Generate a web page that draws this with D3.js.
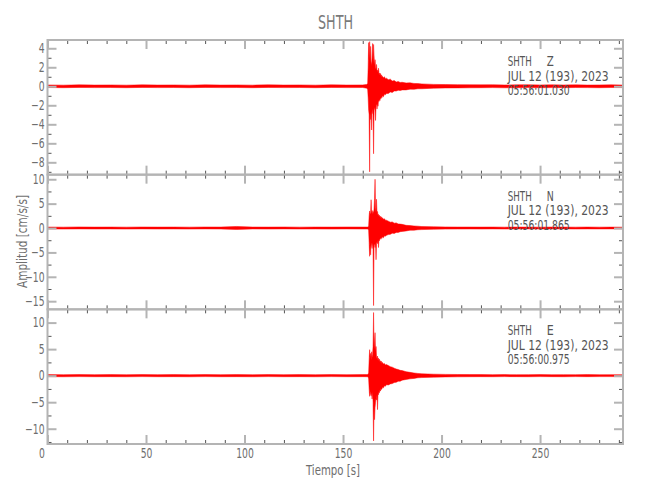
<!DOCTYPE html>
<html><head><meta charset="utf-8">
<script src="https://cdn.jsdelivr.net/npm/d3@7"></script>
<style>
body{margin:0;background:#fff;}
text{font-family:"DejaVu Sans Condensed","DejaVu Sans",sans-serif;}
</style>
</head><body><script>
// ---- data ----
const stationName = "SHTH";
const components = ["Z", "N", "E"];
const dateLabel = "JUL 12 (193), 2023";
const startTimes = ["05:56:01.030", "05:56:01.865", "05:56:00.975"];
const xLabel = "Tiempo [s]";
const yLabel = "Amplitud [cm/s/s]";
const xDomain = [0, 292.1];
const xMajor = [0, 50, 100, 150, 200, 250];
const xMinor = [10,20,30,40,60,70,80,90,110,120,130,140,160,170,180,190,210,220,230,240,260,270,280,290];
const yDomains = [[-9.3, 4.87], [-16.67, 10.94], [-12.88, 12.5]];
const yMajor = [[4,2,0,-2,-4,-6,-8], [10,5,0,-5,-10,-15], [10,5,0,-5,-10]];
const yMinor = [[3,1,-1,-3,-5,-7,-9], [7.5,2.5,-2.5,-7.5,-12.5], [7.5,2.5,-2.5,-7.5,-12.5]];

// time of each min/max bin (s)
const T = [0,8,16,24,32,40,48,56,64,72,80,88,96,104,112,120,128,136,144,152,160,
  162,
  162.5,162.75,163,163.25,163.5,163.75,164,164.25,164.5,164.75,165,165.25,165.5,165.75,166,166.25,
  166.5,166.75,167,167.25,167.5,167.75,168,168.25,168.5,168.75,169,169.25,169.5,169.75,170,
  170.5,171,171.5,172,
  173,174,175,176,177,178,179,180,
  182,184,186,188,190,
  196,202,208,214,220,226,232,238,244,250,256,262,268,274,280,286,292];

// Z component: max / min per bin
const zMax = [0.14,0.12,0.15,0.13,0.14,0.12,0.15,0.13,0.14,0.12,0.15,0.13,0.14,0.12,0.15,0.13,0.14,0.12,0.15,0.13,0.14,
  0.2,
  0.3,2.0,4.6,2.8,4.7,2.5,4.2,2.6,2.2,3.0,4.5,2.4,4.4,3.2,2.2,2.8,
  2.0,1.8,2.3,1.6,1.7,1.5,1.9,1.3,1.4,1.2,1.35,1.1,1.2,1.0,1.05,
  0.9,1.0,0.8,0.85,
  0.7,0.75,0.55,0.6,0.45,0.5,0.4,0.42,
  0.35,0.36,0.3,0.28,0.25,
  0.2,0.18,0.17,0.16,0.15,0.16,0.14,0.15,0.16,0.14,0.15,0.14,0.15,0.13,0.14,0.15,0.13];
const zMin = [-0.13,-0.15,-0.12,-0.14,-0.13,-0.15,-0.12,-0.14,-0.13,-0.15,-0.12,-0.14,-0.13,-0.15,-0.12,-0.14,-0.13,-0.15,-0.12,-0.14,-0.13,
  -0.2,
  -0.3,-1.2,-2.5,-3.0,-9.0,-2.8,-3.5,-2.6,-4.6,-2.4,-2.8,-3.0,-7.1,-2.5,-2.2,-2.6,
  -3.6,-2.0,-1.9,-2.4,-1.8,-2.1,-1.5,-1.6,-1.4,-1.5,-1.2,-1.3,-1.1,-1.2,-1.0,
  -1.1,-0.85,-0.9,-0.75,
  -0.75,-0.6,-0.65,-0.5,-0.5,-0.42,-0.45,-0.38,
  -0.38,-0.3,-0.32,-0.26,-0.26,
  -0.2,-0.18,-0.17,-0.16,-0.15,-0.14,-0.16,-0.15,-0.14,-0.15,-0.14,-0.15,-0.13,-0.14,-0.15,-0.13,-0.14];

// N component
const nMax = [0.2,0.18,0.22,0.19,0.2,0.18,0.21,0.19,0.2,0.18,0.21,0.2,0.32,0.2,0.19,0.21,0.18,0.2,0.19,0.21,0.2,
  0.2,
  0.2,0.25,0.4,2.5,3.5,2.8,3.2,5.8,3.0,3.6,2.8,3.4,3.0,4.0,6.0,10.0,
  4.2,3.2,5.9,3.0,3.4,2.6,2.8,2.4,2.6,2.2,2.4,2.0,2.3,1.9,2.1,
  1.8,1.9,1.6,1.6,
  1.4,1.2,1.25,1.0,1.05,0.85,0.8,0.75,
  0.55,0.5,0.42,0.38,0.3,
  0.25,0.22,0.2,0.2,0.19,0.2,0.18,0.2,0.19,0.18,0.2,0.19,0.18,0.2,0.18,0.19,0.18];
const nMin = [-0.19,-0.21,-0.18,-0.2,-0.19,-0.21,-0.18,-0.2,-0.19,-0.21,-0.18,-0.2,-0.3,-0.19,-0.21,-0.18,-0.2,-0.19,-0.21,-0.18,-0.2,
  -0.2,
  -0.2,-0.25,-0.5,-3.0,-5.8,-3.5,-5.5,-3.0,-3.6,-4.2,-3.0,-4.0,-15.9,-3.5,-3.2,-4.0,
  -3.0,-6.5,-3.2,-2.8,-3.2,-2.5,-4.0,-2.4,-2.6,-2.2,-2.0,-2.3,-1.9,-2.1,-1.8,
  -2.0,-1.6,-1.7,-1.5,
  -1.35,-1.3,-1.05,-1.1,-0.9,-0.9,-0.75,-0.7,
  -0.6,-0.45,-0.45,-0.35,-0.32,
  -0.25,-0.22,-0.2,-0.19,-0.2,-0.18,-0.2,-0.19,-0.18,-0.2,-0.19,-0.18,-0.2,-0.18,-0.19,-0.18,-0.18];

// E component
const eMax = [0.2,0.18,0.21,0.19,0.2,0.18,0.21,0.19,0.2,0.18,0.21,0.19,0.2,0.18,0.21,0.19,0.2,0.18,0.21,0.19,0.2,
  0.2,
  0.2,0.3,0.5,3.0,4.9,3.5,4.2,3.0,4.5,3.4,4.0,5.5,11.9,5.0,6.5,8.1,
  4.5,5.5,3.6,3.2,3.7,2.9,3.3,2.8,3.1,2.6,2.8,2.5,2.7,2.3,2.5,
  2.2,2.3,2.0,2.1,
  1.9,1.7,1.6,1.4,1.25,1.15,1.0,0.95,
  0.75,0.62,0.5,0.42,0.35,
  0.28,0.24,0.22,0.2,0.2,0.19,0.2,0.18,0.19,0.2,0.18,0.19,0.18,0.2,0.18,0.19,0.18];
const eMin = [-0.19,-0.21,-0.18,-0.2,-0.19,-0.21,-0.18,-0.2,-0.19,-0.21,-0.18,-0.2,-0.19,-0.21,-0.18,-0.2,-0.19,-0.21,-0.18,-0.2,-0.19,
  -0.2,
  -0.2,-0.3,-0.6,-2.5,-3.9,-3.0,-3.5,-3.8,-3.2,-4.4,-3.0,-5.0,-12.3,-5.5,-8.3,-6.0,
  -5.0,-4.2,-4.6,-3.6,-6.4,-3.2,-3.6,-3.0,-3.2,-2.7,-2.9,-2.4,-2.6,-2.5,-2.2,
  -2.3,-1.9,-2.0,-1.7,
  -1.75,-1.55,-1.5,-1.3,-1.25,-1.05,-1.05,-0.85,
  -0.72,-0.6,-0.52,-0.4,-0.36,
  -0.28,-0.24,-0.22,-0.2,-0.19,-0.2,-0.18,-0.19,-0.2,-0.18,-0.19,-0.2,-0.18,-0.19,-0.18,-0.18,-0.19];

const seriesMax = [zMax, nMax, eMax];
const seriesMin = [zMin, nMin, eMin];

// ---- layout ----
(function () {
const W = 650, H = 500;
const pLeft = 47.5, pRight = 623, pTop = 40, pBottom = 444;
const nP = 3, pH = (pBottom - pTop) / nP;
const axisCol = "#b4b4b4", minorCol = "#555", labelCol = "#6e6e6e", annCol = "#555";
const sx = 0.76; // horizontal squeeze for tick numbers (narrow plotting font)

const svg = d3.select("body").append("svg").attr("width", W).attr("height", H);
const x = d3.scaleLinear().domain(xDomain).range([pLeft, pRight]);

svg.append("text").attr("x", 335.5).attr("y", 29).attr("text-anchor", "middle")
  .attr("font-size", 19).attr("fill", "#7a7a7a")
  .attr("textLength", 35).attr("lengthAdjust", "spacingAndGlyphs").text(stationName);

function styleAxis(g, col, w) {
  g.select(".domain").remove();
  g.selectAll(".tick line").attr("stroke", col).attr("stroke-width", w);
}

for (let i = 0; i < nP; i++) {
  const y0 = pTop + i * pH, y1 = y0 + pH;
  const y = d3.scaleLinear().domain(yDomains[i]).range([y1, y0]);
  const data = T.map((t, k) => ({t, hi: seriesMax[i][k], lo: seriesMin[i][k]}));

  svg.append("clipPath").attr("id", "clip" + i).append("rect")
    .attr("x", pLeft).attr("y", y0).attr("width", pRight - pLeft).attr("height", pH);

  const area = d3.area().x(d => x(d.t)).y0(d => y(d.lo)).y1(d => y(d.hi));
  svg.append("path").datum(data).attr("clip-path", `url(#clip${i})`)
    .attr("d", area).attr("fill", "#ff0000").attr("stroke", "#ff0000").attr("stroke-width", 0.5);

  // minor ticks
  const gl = svg.append("g").attr("transform", `translate(${pLeft},0)`)
    .call(d3.axisLeft(y).tickValues(yMinor[i]).tickSize(-4).tickFormat(""));
  styleAxis(gl, minorCol, 1);
  const gr = svg.append("g").attr("transform", `translate(${pRight},0)`)
    .call(d3.axisRight(y).tickValues(yMinor[i]).tickSize(-4).tickFormat(""));
  styleAxis(gr, minorCol, 1);
  const gt = svg.append("g").attr("transform", `translate(0,${y0})`)
    .call(d3.axisTop(x).tickValues(xMinor).tickSize(-4).tickFormat(""));
  styleAxis(gt, minorCol, 1);
  const gb = svg.append("g").attr("transform", `translate(0,${y1})`)
    .call(d3.axisBottom(x).tickValues(xMinor).tickSize(-4).tickFormat(""));
  styleAxis(gb, minorCol, 1);

  // major ticks
  const GL = svg.append("g").attr("transform", `translate(${pLeft},0)`)
    .call(d3.axisLeft(y).tickValues(yMajor[i]).tickSize(-9).tickPadding(3).tickFormat(d3.format("d")));
  styleAxis(GL, axisCol, 2);
  GL.selectAll("text").attr("font-size", 13.5).attr("fill", labelCol).attr("font-family", null)
    .attr("x", -3 / sx).attr("transform", `scale(${sx},1)`);
  const GR = svg.append("g").attr("transform", `translate(${pRight},0)`)
    .call(d3.axisRight(y).tickValues(yMajor[i]).tickSize(-9).tickFormat(""));
  styleAxis(GR, axisCol, 2);
  const GT = svg.append("g").attr("transform", `translate(0,${y0})`)
    .call(d3.axisTop(x).tickValues(xMajor).tickSize(-9).tickFormat(""));
  styleAxis(GT, axisCol, 2);
  const GB = svg.append("g").attr("transform", `translate(0,${y1})`)
    .call(d3.axisBottom(x).tickValues(xMajor).tickSize(-9).tickPadding(4)
      .tickFormat(i === nP - 1 ? d3.format("d") : ""));
  styleAxis(GB, axisCol, 2);
  GB.selectAll("text").attr("font-size", 13.5).attr("fill", labelCol).attr("font-family", null)
    .attr("transform", `scale(${sx},1)`).attr("x", d => d === 0 ? -6 / sx : 0);

  // frame
  svg.append("rect").attr("x", pLeft).attr("y", y0).attr("width", pRight - pLeft).attr("height", pH)
    .attr("fill", "none").attr("stroke", axisCol).attr("stroke-width", 2);

  // annotation
  const ax = 507.7;
  svg.append("text").attr("x", ax).attr("y", y0 + 26).attr("font-size", 14.5).attr("fill", annCol)
    .attr("textLength", 24).attr("lengthAdjust", "spacingAndGlyphs").text(stationName);
  svg.append("text").attr("x", ax + 39).attr("y", y0 + 26).attr("font-size", 14.5).attr("fill", annCol)
    .attr("textLength", 7).attr("lengthAdjust", "spacingAndGlyphs").text(components[i]);
  svg.append("text").attr("x", ax).attr("y", y0 + 40.5).attr("font-size", 14.5).attr("fill", annCol)
    .attr("textLength", 101).attr("lengthAdjust", "spacingAndGlyphs").text(dateLabel);
  svg.append("text").attr("x", ax).attr("y", y0 + 55).attr("font-size", 14.5).attr("fill", annCol)
    .attr("textLength", 62).attr("lengthAdjust", "spacingAndGlyphs").text(startTimes[i]);
}

svg.append("text").attr("x", 333).attr("y", 475).attr("text-anchor", "middle")
  .attr("font-size", 14).attr("fill", labelCol)
  .attr("textLength", 54).attr("lengthAdjust", "spacingAndGlyphs").text(xLabel);
svg.append("text").attr("transform", "translate(27,241.5) rotate(-90)").attr("text-anchor", "middle")
  .attr("font-size", 14).attr("fill", labelCol)
  .attr("textLength", 93).attr("lengthAdjust", "spacingAndGlyphs").text(yLabel);
})();
</script></body></html>
